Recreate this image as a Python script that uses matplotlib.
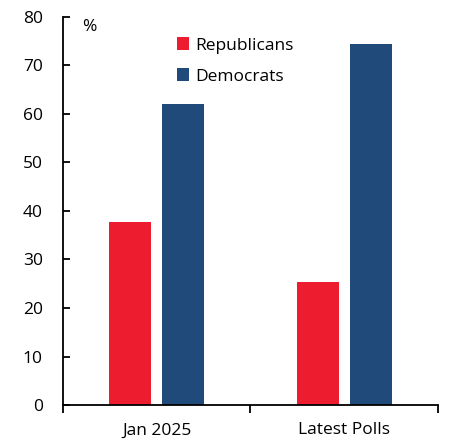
import matplotlib
matplotlib.use("Agg")
import matplotlib.pyplot as plt
import numpy as np

categories = ["Jan 2025", "Latest Polls"]
series_names = ["Republicans", "Democrats"]
republicans = [37.8, 25.3]
democrats = [62.1, 74.5]
yticks = [0, 10, 20, 30, 40, 50, 60, 70, 80]

plt.rcParams['font.family'] = ['Open Sans', 'DejaVu Sans']
plt.rcParams['font.size'] = 12.5

red = '#ED1C2E'
blue = '#204A7A'

fig = plt.figure(figsize=(4.5, 4.44), dpi=100)
ax = fig.add_axes([0.14, 0.0878, 0.8333, 0.874])

x = np.arange(len(categories))
w = 0.224
off = 0.141
ax.bar(x - off, republicans, width=w, color=red, label=series_names[0])
ax.bar(x + off, democrats, width=w, color=blue, label=series_names[1])

ax.set_xlim(-0.5, 1.5)
ax.set_ylim(0, 80)
ax.set_yticks(yticks)
ax.tick_params(axis='y', direction='in', length=5, width=1.3, pad=14.5, colors='black')
ax.set_xticks(x)
ax.set_xticklabels(categories)
ax.tick_params(axis='x', length=0, pad=12.5)
ax.set_xticks([-0.5, 0.5, 1.5], minor=True)
ax.tick_params(axis='x', which='minor', direction='out', length=6, width=1.3)

for s in ['top', 'right']:
    ax.spines[s].set_visible(False)
for s in ['left', 'bottom']:
    ax.spines[s].set_linewidth(1.3)

ax.text(0.0707, 0.975, '%', transform=ax.transAxes, ha='center', va='center')

ax.legend(loc='upper left', bbox_to_anchor=(0.285, 0.965), frameon=False,
          handlelength=0.7, handleheight=0.7, handletextpad=0.35, labelspacing=0.85,
          borderaxespad=0)

fig.savefig('out.png', dpi=100)
